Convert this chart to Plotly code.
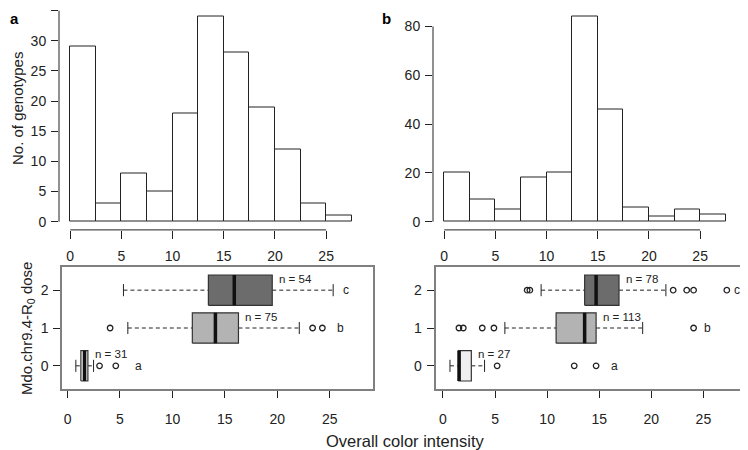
import plotly.graph_objects as go

# ─── Data ────────────────────────────────────────────────────────────────────
bin_left = [0, 2.5, 5, 7.5, 10, 12.5, 15, 17.5, 20, 22.5, 25]
bin_width = 2.5
counts_a = [29, 3, 8, 5, 18, 34, 28, 19, 12, 3, 1]
counts_b = [20, 9, 5, 18, 20, 84, 46, 6, 2, 5, 3]

doses = [0, 1, 2]
box_fill = ["#efefef", "#b3b3b3", "#6c6c6c"]

# panel a: low whisker, q1, median, q3, high whisker
a_lo = [0.79, 5.75, 5.33]
a_q1 = [1.27, 11.9, 13.43]
a_med = [1.62, 14.1, 15.9]
a_q3 = [1.94, 16.3, 19.52]
a_hi = [2.48, 22.1, 25.33]
a_out = [[3.05, 4.6], [4.06, 23.37, 24.3], []]
a_n = [31, 75, 54]
a_letter = ["a", "b", "c"]
a_letter_x = [6.8, 26.0, 26.6]

# panel b
b_lo = [0.67, 5.94, 9.42]
b_q1 = [1.47, 10.86, 13.6]
b_med = [1.55, 13.6, 14.7]
b_q3 = [2.72, 14.7, 16.9]
b_hi = [3.99, 19.17, 21.4]
b_out = [[5.2, 12.6, 14.7], [1.53, 1.95, 3.77, 4.89, 24.06], [8.08, 8.34, 22.1, 23.4, 24.06, 27.25]]
b_n = [27, 113, 78]
b_letter = ["a", "b", "c"]
b_letter_x = [16.5, 25.4, 28.2]

hist_ticks = [0, 5, 10, 15, 20, 25]

FONT = "Liberation Sans, Arial, sans-serif"
INK = "#222222"

# the page body adds an 8px margin, so lay the figure out in reference pixels
OFF = 8
W, H = 748 - OFF, 450 - OFF


def px(x):
    return (x - OFF) / W


def py(y):
    return 1 - (y - OFF) / H


fig = go.Figure()


def add_hist(counts, xa, ya):
    fig.add_trace(go.Bar(
        x=bin_left, y=counts, width=bin_width, offset=0,
        marker=dict(color="white", line=dict(color=INK, width=1)),
        xaxis=xa, yaxis=ya, showlegend=False, hoverinfo="y",
    ))


def add_boxes(lo, q1, med, q3, hi, outs, ns, letters, letter_x, xa, ya):
    hw = 0.4      # half box height
    sw = 0.16     # half staple height
    for i, g in enumerate(doses):
        # dashed whiskers
        for xs in ([lo[i], q1[i]], [q3[i], hi[i]]):
            fig.add_trace(go.Scatter(x=xs, y=[g, g], mode="lines",
                                     line=dict(color=INK, width=1, dash="4px,3px"),
                                     xaxis=xa, yaxis=ya, showlegend=False, hoverinfo="skip"))
        # staples
        for xv in (lo[i], hi[i]):
            fig.add_trace(go.Scatter(x=[xv, xv], y=[g - sw, g + sw], mode="lines",
                                     line=dict(color=INK, width=1),
                                     xaxis=xa, yaxis=ya, showlegend=False, hoverinfo="skip"))
        # box
        fig.add_trace(go.Scatter(
            x=[q1[i], q3[i], q3[i], q1[i], q1[i]],
            y=[g - hw, g - hw, g + hw, g + hw, g - hw],
            mode="lines", fill="toself", fillcolor=box_fill[i],
            line=dict(color="#333333", width=1.2),
            xaxis=xa, yaxis=ya, showlegend=False, hoverinfo="skip"))
        # median
        fig.add_trace(go.Scatter(x=[med[i], med[i]], y=[g - hw, g + hw], mode="lines",
                                 line=dict(color="#111111", width=3.5),
                                 xaxis=xa, yaxis=ya, showlegend=False, hoverinfo="skip"))
        # outliers
        if outs[i]:
            fig.add_trace(go.Scatter(x=outs[i], y=[g] * len(outs[i]), mode="markers",
                                     marker=dict(symbol="circle-open", size=5.5,
                                                 color=INK, line=dict(width=1.3)),
                                     xaxis=xa, yaxis=ya, showlegend=False))
        fig.add_annotation(x=q3[i] + 0.45, y=g + 0.3, text=f"n = {ns[i]}",
                           xref=xa, yref=ya, xanchor="left", yanchor="middle",
                           showarrow=False, font=dict(size=11.5, family=FONT, color=INK))
        fig.add_annotation(x=letter_x[i], y=g, text=letters[i],
                           xref=xa, yref=ya, xanchor="center", yanchor="middle",
                           showarrow=False, font=dict(size=12, family=FONT, color=INK))


add_hist(counts_a, "x", "y")
add_hist(counts_b, "x2", "y2")
add_boxes(a_lo, a_q1, a_med, a_q3, a_hi, a_out, a_n, a_letter, a_letter_x, "x3", "y3")
add_boxes(b_lo, b_q1, b_med, b_q3, b_hi, b_out, b_n, b_letter, b_letter_x, "x4", "y4")

tickfont = dict(size=14, family=FONT, color=INK)
hist_x = dict(range=[-1.1, 28.6], tickvals=hist_ticks, ticks="outside", ticklen=8,
              tickcolor=INK, showline=False, showgrid=False, zeroline=False,
              tickfont=tickfont, ticklabelstandoff=5)
box_x = dict(tickvals=hist_ticks, ticks="outside", ticklen=7, tickcolor=INK,
             showline=True, mirror=True, linecolor="#808080", linewidth=2,
             showgrid=False, zeroline=False, tickfont=tickfont, ticklabelstandoff=9)
box_y = dict(range=[-0.62, 2.62], tickvals=doses, ticks="outside", ticklen=7, tickcolor=INK,
             showline=True, mirror=True, linecolor="#808080", linewidth=2,
             showgrid=False, zeroline=False, tickfont=tickfont, ticklabelstandoff=2)
hist_y = dict(ticks="outside", ticklen=7, tickcolor=INK, showline=False, showgrid=False,
              zeroline=False, tickfont=tickfont, ticklabelstandoff=2)

hist_dom_y = [py(229.9), py(8.5)]
box_dom_y = [py(389.3), py(266.7)]

fig.update_layout(
    width=W, height=H,
    margin=dict(l=0, r=0, t=0, b=0),
    paper_bgcolor="white", plot_bgcolor="white",
    font=dict(family=FONT, color=INK),
    bargap=0,
    xaxis=dict(domain=[px(59), px(363)], anchor="y", **hist_x),
    yaxis=dict(domain=hist_dom_y, anchor="x", range=[-1.36, 35.36],
               tickvals=[0, 5, 10, 15, 20, 25, 30, 35], **hist_y),
    xaxis2=dict(domain=[px(433), px(737)], anchor="y2", **hist_x),
    yaxis2=dict(domain=hist_dom_y, anchor="x2", range=[-3.36, 87.36],
                tickvals=[0, 20, 40, 60, 80], **hist_y),
    xaxis3=dict(domain=[px(62.3), px(372.7)], anchor="y3", range=[-0.5, 29.1], **box_x),
    yaxis3=dict(domain=box_dom_y, anchor="x3", **box_y),
    xaxis4=dict(domain=[px(435.7), px(744)], anchor="y4", range=[-0.7, 28.9], **box_x),
    yaxis4=dict(domain=box_dom_y, anchor="x4", **box_y),
)

# R-style axis lines spanning only the tick range
for xa, ya, ymax in (("x", "y", 35), ("x2", "y2", 80)):
    fig.add_shape(type="line", xref=xa, yref=f"{ya} domain", x0=hist_ticks[0], x1=hist_ticks[-1],
                  y0=0, y1=0, line=dict(color=INK, width=1))
    fig.add_shape(type="line", xref=f"{xa} domain", yref=ya, x0=0, x1=0,
                  y0=0, y1=ymax, line=dict(color=INK, width=1))

# titles and panel letters
title_font = dict(size=15, family=FONT, color=INK)
fig.add_annotation(text="No. of genotypes", x=px(18), y=py(109), xref="paper", yref="paper",
                   xanchor="center", yanchor="middle", textangle=-90, showarrow=False,
                   font=title_font)
fig.add_annotation(text="Mdo.chr9.4-R<sub>0</sub> dose", x=px(27), y=py(329),
                   xref="paper", yref="paper", xanchor="center", yanchor="middle",
                   textangle=-90, showarrow=False, font=title_font)
fig.add_annotation(text="Overall color intensity", x=px(405), y=py(441), xref="paper",
                   yref="paper", xanchor="center", yanchor="middle", showarrow=False,
                   font=dict(size=16.5, family=FONT, color=INK))
fig.add_annotation(text="<b>a</b>", x=px(8), y=1, xref="paper", yref="paper",
                   xanchor="left", yanchor="top", showarrow=False,
                   font=dict(size=15, family=FONT, color="black"))
fig.add_annotation(text="<b>b</b>", x=px(380), y=1, xref="paper", yref="paper",
                   xanchor="left", yanchor="top", showarrow=False,
                   font=dict(size=15, family=FONT, color="black"))

fig.write_html("out.html")
